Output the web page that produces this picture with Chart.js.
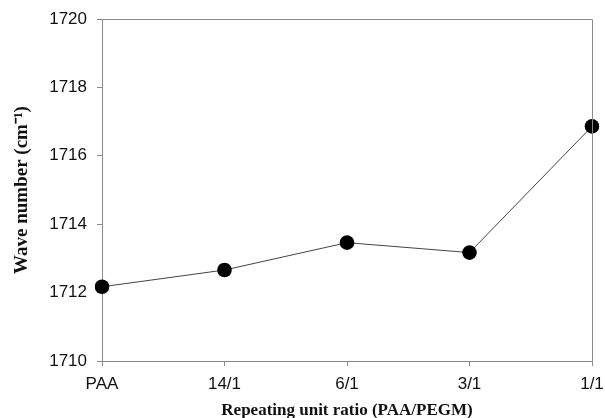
<!DOCTYPE html>
<html>
<head>
<meta charset="utf-8">
<script src="https://cdn.jsdelivr.net/npm/chart.js@4/dist/chart.umd.min.js"></script>
<style>
  html, body { margin: 0; padding: 0; background: #fff; }
  #wrap { width: 605px; height: 418px; }
</style>
</head>
<body>
<div id="wrap"><canvas id="c" width="605" height="418"></canvas></div>
<script>
const categories = ["PAA", "14/1", "6/1", "3/1", "1/1"];
const waveNumbers = [1712.17, 1712.66, 1713.46, 1713.17, 1716.86];
const yMin = 1710;
const yMax = 1720;
const yStep = 2;
const xTitle = "Repeating unit ratio (PAA/PEGM)";
const yTitle = "Wave number (cm\u207B\u00B9)";

const frame = {
  id: 'frame',
  afterDraw(chart) {
    const a = chart.chartArea, ctx = chart.ctx;
    ctx.save();
    ctx.strokeStyle = '#8a8a8a';
    ctx.lineWidth = 1;
    ctx.beginPath();
    ctx.moveTo(a.left, a.top + 0.5);
    ctx.lineTo(a.right + 0.5, a.top + 0.5);
    ctx.lineTo(a.right + 0.5, a.bottom);
    ctx.stroke();
    ctx.restore();
  }
};

new Chart(document.getElementById('c'), {
  type: 'line',
  data: {
    labels: categories,
    datasets: [{
      data: waveNumbers,
      borderColor: '#444',
      borderWidth: 1,
      pointRadius: 7.3,
      pointBackgroundColor: '#000',
      pointBorderColor: '#000',
      pointBorderWidth: 0,
      tension: 0,
      fill: false
    }]
  },
  options: {
    responsive: false,
    animation: false,
    devicePixelRatio: 1,
    layout: { padding: { top: 19, right: 13, left: 0, bottom: 0 } },
    plugins: { legend: { display: false }, tooltip: { enabled: false } },
    scales: {
      x: {
        type: 'category',
        offset: false,
        afterFit(s) { s.height = 57; s.paddingLeft = 0; s.paddingRight = 0; },
        grid: { drawOnChartArea: false, drawTicks: true, tickLength: 5, color: '#8a8a8a' },
        border: { color: '#8a8a8a', width: 1 },
        ticks: { color: '#111', padding: 8, maxRotation: 0, font: { family: '"Liberation Sans", Arial, sans-serif', size: 17 } },
        title: {
          display: true, text: xTitle, color: '#111',
          font: { family: '"Liberation Serif", "Times New Roman", serif', size: 17, weight: 'bold', lineHeight: 1 },
          padding: { top: 0, bottom: -1 }
        }
      },
      y: {
        min: yMin, max: yMax,
        afterFit(s) { s.width = 102; s.paddingTop = 0; s.paddingBottom = 0; },
        grid: { drawOnChartArea: false, drawTicks: true, tickLength: 5, color: '#8a8a8a' },
        border: { color: '#8a8a8a', width: 1 },
        ticks: {
          stepSize: yStep, color: '#111', padding: 10,
          font: { family: '"Liberation Sans", Arial, sans-serif', size: 17 },
          callback: (v) => String(v)
        },
        title: {
          display: true, text: yTitle, color: '#111',
          font: { family: '"Liberation Serif", "Times New Roman", serif', size: 19, weight: 'bold', lineHeight: 1 },
          padding: { top: 13, bottom: 0 }
        }
      }
    }
  },
  plugins: [frame]
});
</script>
</body>
</html>
